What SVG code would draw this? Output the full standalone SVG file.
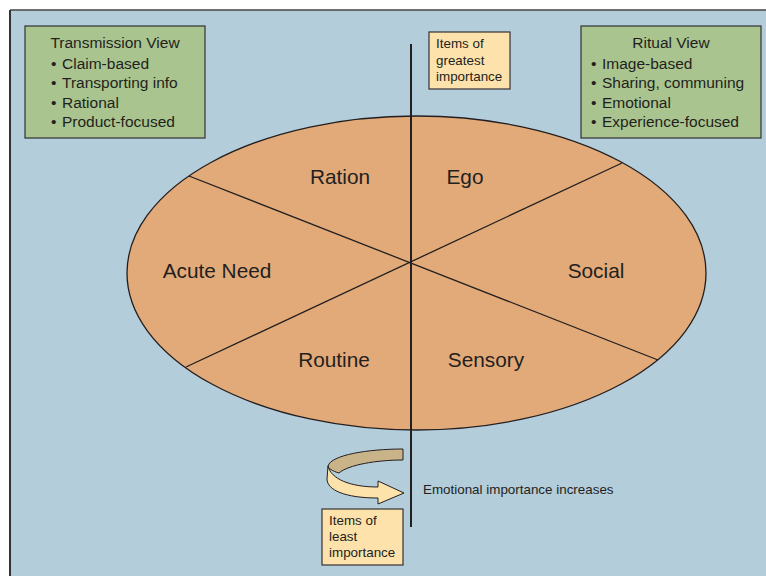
<svg xmlns="http://www.w3.org/2000/svg" width="766" height="576" viewBox="0 0 766 576">
<style>
  text { font-family: "Liberation Sans", Arial, sans-serif; fill: #231f20; }
  .box { fill: #a9c48e; stroke: #333; stroke-width: 1.2; }
  .note { fill: #fee2ab; stroke: #333; stroke-width: 1.2; }
  .bt { font-size: 15.5px; }
  .nt { font-size: 13.4px; }
  .seg { font-size: 20.8px; text-anchor: middle; }
  .ln { stroke: #231f20; stroke-width: 1.3; fill: none; }
</style>
<rect x="0" y="0" width="766" height="576" fill="#ffffff"/>
<rect x="10" y="10" width="756" height="566" fill="#b4cddb"/>
<line x1="10" y1="10" x2="766" y2="10" stroke="#444" stroke-width="1.5"/>
<line x1="10" y1="10" x2="10" y2="576" stroke="#333" stroke-width="2"/>

<g id="ellipse">
  <ellipse cx="416.5" cy="273" rx="289.5" ry="157" fill="#e2aa79" stroke="#231f20" stroke-width="1.3"/>
</g>

<g id="connectors">
  <line class="ln" x1="189" y1="176" x2="658" y2="360"/>
  <line class="ln" x1="186" y1="367" x2="622" y2="163"/>
  <line x1="411" y1="44" x2="411" y2="527" stroke="#231f20" stroke-width="2"/>
</g>

<g id="seg-ration"><text class="seg" x="340" y="184">Ration</text></g>
<g id="seg-ego"><text class="seg" x="465" y="184">Ego</text></g>
<g id="seg-acute"><text class="seg" x="217" y="278">Acute Need</text></g>
<g id="seg-social"><text class="seg" x="596" y="278">Social</text></g>
<g id="seg-routine"><text class="seg" x="334" y="367">Routine</text></g>
<g id="seg-sensory"><text class="seg" x="486" y="367">Sensory</text></g>

<g id="transmission">
  <rect class="box" x="25" y="26" width="180" height="112"/>
  <text class="bt" x="115" y="48" text-anchor="middle">Transmission View</text>
  <text class="bt" x="51" y="69">•</text><text class="bt" x="62" y="69">Claim-based</text>
  <text class="bt" x="51" y="88">•</text><text class="bt" x="62" y="88">Transporting info</text>
  <text class="bt" x="51" y="108">•</text><text class="bt" x="62" y="108">Rational</text>
  <text class="bt" x="51" y="127">•</text><text class="bt" x="62" y="127">Product-focused</text>
</g>

<g id="ritual">
  <rect class="box" x="581" y="26" width="180" height="112"/>
  <text class="bt" x="671" y="48" text-anchor="middle">Ritual View</text>
  <text class="bt" x="591" y="69">•</text><text class="bt" x="602" y="69">Image-based</text>
  <text class="bt" x="591" y="88">•</text><text class="bt" x="602" y="88">Sharing, communing</text>
  <text class="bt" x="591" y="108">•</text><text class="bt" x="602" y="108">Emotional</text>
  <text class="bt" x="591" y="127">•</text><text class="bt" x="602" y="127">Experience-focused</text>
</g>

<g id="greatest">
  <rect class="note" x="429" y="32" width="81" height="57"/>
  <text class="nt" x="436" y="48">Items of</text>
  <text class="nt" x="436" y="64.5">greatest</text>
  <text class="nt" x="436" y="81">importance</text>
</g>

<g id="least">
  <rect class="note" x="322" y="509" width="81" height="56"/>
  <text class="nt" x="329" y="525">Items of</text>
  <text class="nt" x="329" y="541">least</text>
  <text class="nt" x="329" y="557">importance</text>
</g>

<g id="rotation-arrow" stroke="#231f20" stroke-width="1" stroke-linejoin="round">
  <path d="M403,449 L403,460 C376,460 348,465 339,473 C332,471 328,468 328,466 C331,455 368,449 403,449 Z" fill="#c9b48a"/>
  <path d="M328,466 C331,479 350,487 378,487 L378,481 L404,493 L378,504 L378,498 C345,498 327,490 327,479 Z" fill="#fee2ab"/>
</g>

<g id="emotional-label">
  <text class="nt" x="423" y="494">Emotional importance increases</text>
</g>
</svg>
